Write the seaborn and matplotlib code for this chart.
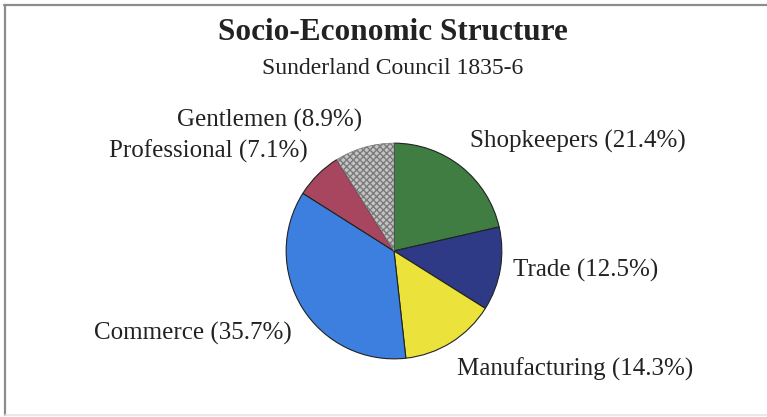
import numpy as np
import matplotlib
matplotlib.use('Agg')
import matplotlib.pyplot as plt
from matplotlib.lines import Line2D
import seaborn as sns

# data
groups = ['Shopkeepers', 'Trade', 'Manufacturing', 'Commerce', 'Professional', 'Gentlemen']
shares = [21.4, 12.5, 14.3, 35.7, 7.1, 8.9]
colours = ['#3f7d42', '#2f3a86', '#ece23c', '#3c7fdf', '#a8465f', '#c4c4c4']

sns.set_theme(style='white')
plt.rcParams['font.family'] = ['Liberation Serif', 'DejaVu Serif']

W, H = 767, 417
fig = plt.figure(figsize=(W/100, H/100), dpi=100)
fig.patch.set_facecolor('white')

# frame: top and left lines, faint bottom
fig.lines.append(Line2D([4/W, 1], [1-5/H, 1-5/H], transform=fig.transFigure, color='#8c8c8c', lw=1.6))
fig.lines.append(Line2D([5/W, 5/W], [1-5/H, 2/H], transform=fig.transFigure, color='#8c8c8c', lw=1.6))
fig.lines.append(Line2D([5/W, 1], [2/H, 2/H], transform=fig.transFigure, color='#e4e4e4', lw=1.2))

cx, cy, r = 394, 251, 110
ax = fig.add_axes([(cx-r)/W, (H-cy-r)/H, 2*r/W, 2*r/H])
labels = [f'{g} ({v}%)' for g, v in zip(groups, shares)]
wedges, texts = ax.pie(shares, labels=labels, colors=colours, startangle=90, counterclock=False,
                       wedgeprops=dict(edgecolor='#222222', linewidth=0.8),
                       textprops=dict(fontsize=18, color='#222222'))
ax.set_xlim(-1.02, 1.02)
ax.set_ylim(-1.02, 1.02)
ax.set_aspect('equal')

# hatched gentlemen slice
wedges[5].set_hatch('xxxxx')
wedges[5].set_edgecolor('#7a7a7a')
wedges[5].set_linewidth(0.5)

# label anchors (in pie radius units) and alignment
label_pos = [(0.705, 1.02, 'left'), (1.10, -0.176, 'left'), (0.584, -1.10, 'left'),
             (-0.946, -0.76, 'right'), (-0.80, 0.92, 'right'), (-0.30, 1.21, 'right')]
for t, (x, y, ha) in zip(texts, label_pos):
    t.set_position((x, y))
    t.set_ha(ha)
    t.set_va('center')

fig.text(0.512, 1-33/H, 'Socio-Economic Structure', ha='center', va='center',
         fontsize=22.5, fontweight='bold', color='#222222')
fig.text(0.512, 1-69/H, 'Sunderland Council 1835-6', ha='center', va='center',
         fontsize=17, color='#222222')

fig.savefig('out.png', dpi=100)
